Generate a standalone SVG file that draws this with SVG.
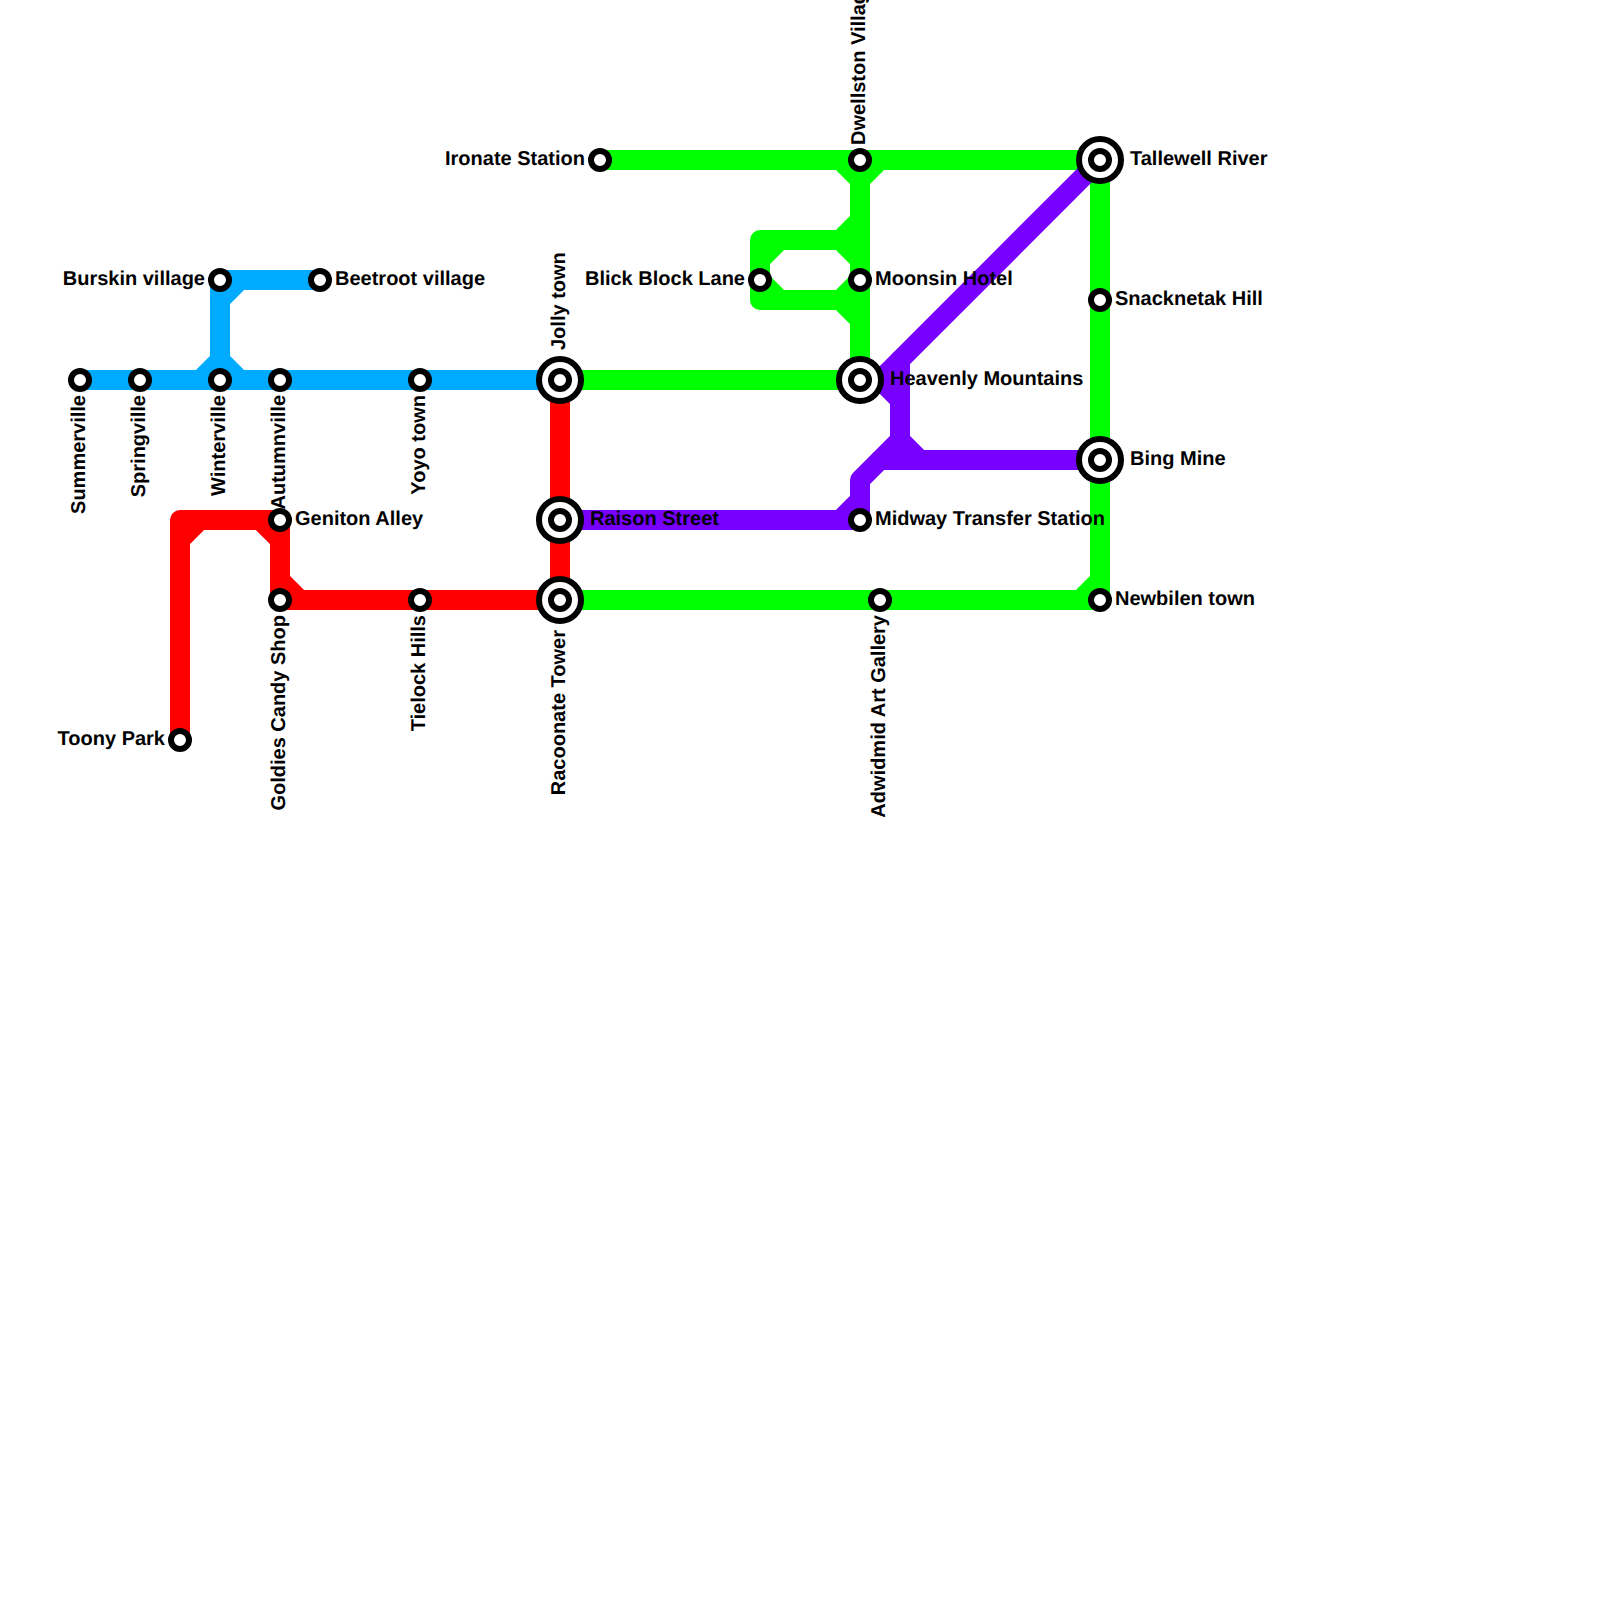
<svg xmlns="http://www.w3.org/2000/svg" width="1600" height="1600" viewBox="0 0 1600 1600">
<style>
.l{fill:none;stroke-width:20;stroke-linejoin:round;stroke-linecap:round}
.g{stroke:#00ff00}.b{stroke:#00aaff}.r{stroke:#ff0000}.p{stroke:#7700ff}
.s{fill:#fff;stroke:#000;stroke-width:6}
text{font-family:"Liberation Sans",Arial,sans-serif;font-weight:bold;font-size:20px;fill:#000;text-rendering:geometricPrecision}
.e{text-anchor:end}
</style>
<rect width="1600" height="1600" fill="#fff"/>
<g id="connectors">
<g class="l g">
<path d="M600 160H1100V600H560"/>
<path d="M860 160V380H560"/>
<path d="M840 160L860 180L880 160"/>
<path d="M860 220L840 240H760V300H840L860 280"/>
<path d="M860 260L840 240H780L760 260V280L780 300H840L860 320"/>
<path d="M1080 600L1100 580"/>
</g>
<g class="l b">
<path d="M80 380H560"/>
<path d="M320 280H220V380"/>
<path d="M240 280L220 300"/>
<path d="M200 380L220 360L240 380"/>
</g>
<g class="l r">
<path d="M180 740V520H280V600H560"/>
<path d="M560 380V600"/>
<path d="M180 540L200 520"/>
<path d="M260 520L280 540"/>
<path d="M280 580L300 600"/>
</g>
<g class="l p">
<path d="M1100 160L900 360V460"/>
<path d="M860 380H880L900 400"/>
<path d="M880 380L900 360"/>
<path d="M900 440L920 460"/>
<path d="M560 520H860"/>
<path d="M840 520L860 500"/>
<path d="M860 520V480L880 460H1100"/>
<path d="M880 460L900 440"/>
</g>
</g>
<g id="summerville"><circle class="s" cx="80" cy="380" r="9"/><text transform="translate(85 395) rotate(-90)" class="e">Summerville</text></g>
<g id="springville"><circle class="s" cx="140" cy="380" r="9"/><text transform="translate(145 395) rotate(-90)" class="e">Springville</text></g>
<g id="winterville"><circle class="s" cx="220" cy="380" r="9"/><text transform="translate(225 395) rotate(-90)" class="e">Winterville</text></g>
<g id="autumnville"><circle class="s" cx="280" cy="380" r="9"/><text transform="translate(285 395) rotate(-90)" class="e">Autumnville</text></g>
<g id="yoyo"><circle class="s" cx="420" cy="380" r="9"/><text transform="translate(425 395) rotate(-90)" class="e">Yoyo town</text></g>
<g id="burskin"><circle class="s" cx="220" cy="280" r="9"/><text x="205" y="285" class="e">Burskin village</text></g>
<g id="beetroot"><circle class="s" cx="320" cy="280" r="9"/><text x="335" y="285">Beetroot village</text></g>
<g id="geniton"><circle class="s" cx="280" cy="520" r="9"/><text x="295" y="525">Geniton Alley</text></g>
<g id="goldies"><circle class="s" cx="280" cy="600" r="9"/><text transform="translate(285 615) rotate(-90)" class="e">Goldies Candy Shop</text></g>
<g id="tielock"><circle class="s" cx="420" cy="600" r="9"/><text transform="translate(425 615) rotate(-90)" class="e">Tielock Hills</text></g>
<g id="toony"><circle class="s" cx="180" cy="740" r="9"/><text x="165" y="745" class="e">Toony Park</text></g>
<g id="jolly"><circle class="s" cx="560" cy="380" r="21"/><circle class="s" cx="560" cy="380" r="9"/><text transform="translate(565 350) rotate(-90)">Jolly town</text></g>
<g id="raison"><circle class="s" cx="560" cy="520" r="21"/><circle class="s" cx="560" cy="520" r="9"/><text x="590" y="525">Raison Street</text></g>
<g id="racoonate"><circle class="s" cx="560" cy="600" r="21"/><circle class="s" cx="560" cy="600" r="9"/><text transform="translate(565 630) rotate(-90)" class="e">Racoonate Tower</text></g>
<g id="ironate"><circle class="s" cx="600" cy="160" r="9"/><text x="585" y="165" class="e">Ironate Station</text></g>
<g id="dwellston"><circle class="s" cx="860" cy="160" r="9"/><text transform="translate(865 145) rotate(-90)">Dwellston Village</text></g>
<g id="blick"><circle class="s" cx="760" cy="280" r="9"/><text x="745" y="285" class="e">Blick Block Lane</text></g>
<g id="moonsin"><circle class="s" cx="860" cy="280" r="9"/><text x="875" y="285">Moonsin Hotel</text></g>
<g id="heavenly"><circle class="s" cx="860" cy="380" r="21"/><circle class="s" cx="860" cy="380" r="9"/><text x="890" y="385">Heavenly Mountains</text></g>
<g id="midway"><circle class="s" cx="860" cy="520" r="9"/><text x="875" y="525">Midway Transfer Station</text></g>
<g id="adwidmid"><circle class="s" cx="880" cy="600" r="9"/><text transform="translate(885 615) rotate(-90)" class="e">Adwidmid Art Gallery</text></g>
<g id="tallewell"><circle class="s" cx="1100" cy="160" r="21"/><circle class="s" cx="1100" cy="160" r="9"/><text x="1130" y="165">Tallewell River</text></g>
<g id="snacknetak"><circle class="s" cx="1100" cy="300" r="9"/><text x="1115" y="305">Snacknetak Hill</text></g>
<g id="bing"><circle class="s" cx="1100" cy="460" r="21"/><circle class="s" cx="1100" cy="460" r="9"/><text x="1130" y="465">Bing Mine</text></g>
<g id="newbilen"><circle class="s" cx="1100" cy="600" r="9"/><text x="1115" y="605">Newbilen town</text></g>
</svg>
